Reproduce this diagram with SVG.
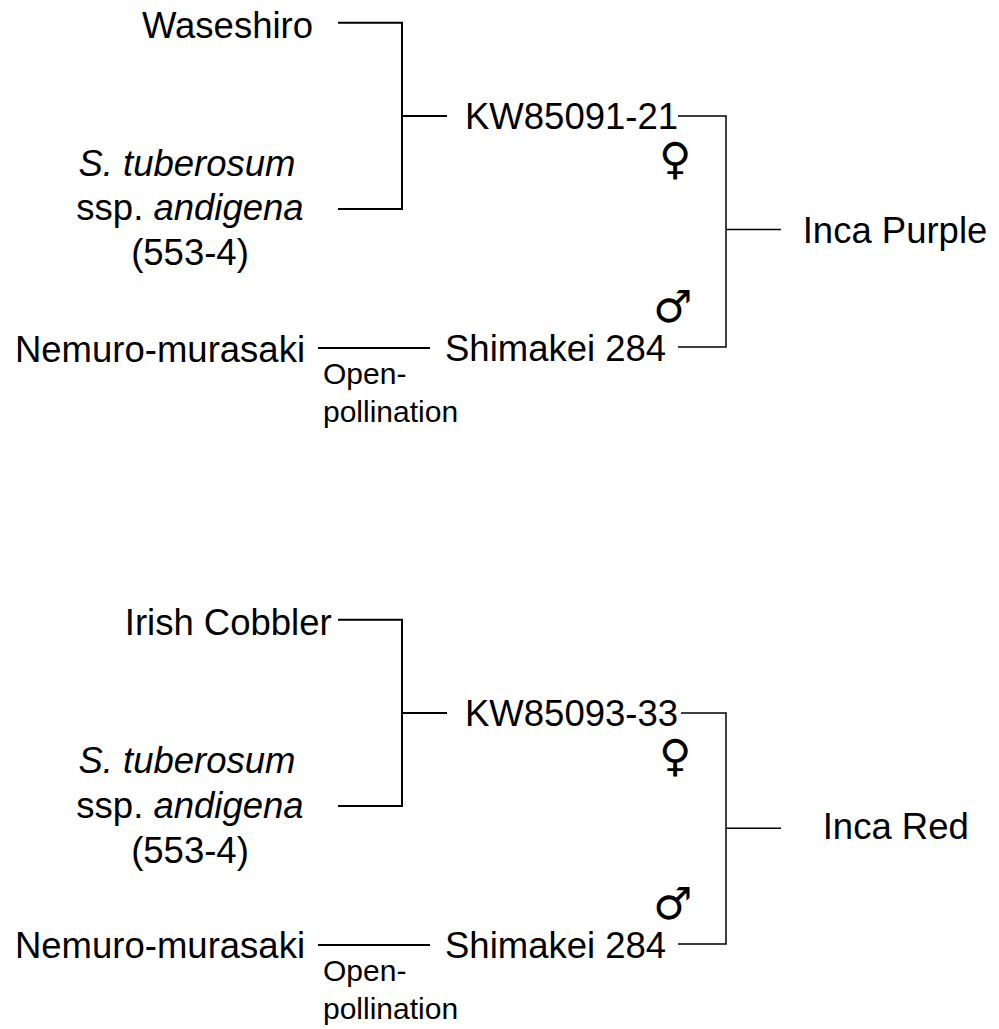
<svg xmlns="http://www.w3.org/2000/svg" width="999" height="1029" viewBox="0 0 999 1029">
<style>
text{font-family:"Liberation Sans",Arial,sans-serif;font-size:36.5px;fill:#000}
.it{font-style:italic}
.sm{font-size:30px}
.sym{font-family:"DejaVu Sans",sans-serif;font-size:44px}
.thick{fill:none;stroke:#000;stroke-width:2}
.thin{fill:none;stroke:#000;stroke-width:1.5}
</style>
<rect width="999" height="1029" fill="#fff"/>
<g id="connectors">
<path class="thick" d="M338,22.7H402V209H338M402,116H447"/>
<path class="thick" d="M318,348H430"/>
<path class="thin" d="M678,116H726V347H678M726,229.5H781"/>
<path class="thick" d="M338,619.7H402V806H338M402,713H447"/>
<path class="thick" d="M318,945H430"/>
<path class="thin" d="M681,713H726V944H678M726,828.3H781"/>
</g>
<g id="top">
<g id="waseshiro"><text x="313" y="38" text-anchor="end">Waseshiro</text></g>
<g id="andigena1">
<text x="187" y="175.7" text-anchor="middle" class="it">S. tuberosum</text>
<text x="190" y="220" text-anchor="middle">ssp. <tspan class="it">andigena</tspan></text>
<text x="190" y="265" text-anchor="middle">(553-4)</text>
</g>
<g id="nemuro1"><text x="305" y="361.7" text-anchor="end">Nemuro-murasaki</text></g>
<g id="openpoll1"><text class="sm" x="323" y="384">Open-</text><text class="sm" x="323" y="422">pollination</text></g>
<g id="kw85091"><text x="465" y="129.3">KW85091-21</text><text class="sym" x="675" y="173.5" text-anchor="middle">♀</text></g>
<g id="shimakei1"><text x="445" y="361">Shimakei 284</text><text class="sym" x="673" y="322" text-anchor="middle">♂</text></g>
<g id="incapurple"><text x="802.7" y="242.7">Inca Purple</text></g>
</g>
<g id="bottom">
<g id="irishcobbler"><text x="331.7" y="635" text-anchor="end">Irish Cobbler</text></g>
<g id="andigena2">
<text x="187" y="773.3" text-anchor="middle" class="it">S. tuberosum</text>
<text x="190" y="818.3" text-anchor="middle">ssp. <tspan class="it">andigena</tspan></text>
<text x="190" y="863.3" text-anchor="middle">(553-4)</text>
</g>
<g id="nemuro2"><text x="305" y="958.3" text-anchor="end">Nemuro-murasaki</text></g>
<g id="openpoll2"><text class="sm" x="323" y="981">Open-</text><text class="sm" x="323" y="1019">pollination</text></g>
<g id="kw85093"><text x="465" y="726.3">KW85093-33</text><text class="sym" x="675" y="770.5" text-anchor="middle">♀</text></g>
<g id="shimakei2"><text x="445" y="958.3">Shimakei 284</text><text class="sym" x="673" y="919" text-anchor="middle">♂</text></g>
<g id="incared"><text x="822.7" y="839.3">Inca Red</text></g>
</g>
</svg>
